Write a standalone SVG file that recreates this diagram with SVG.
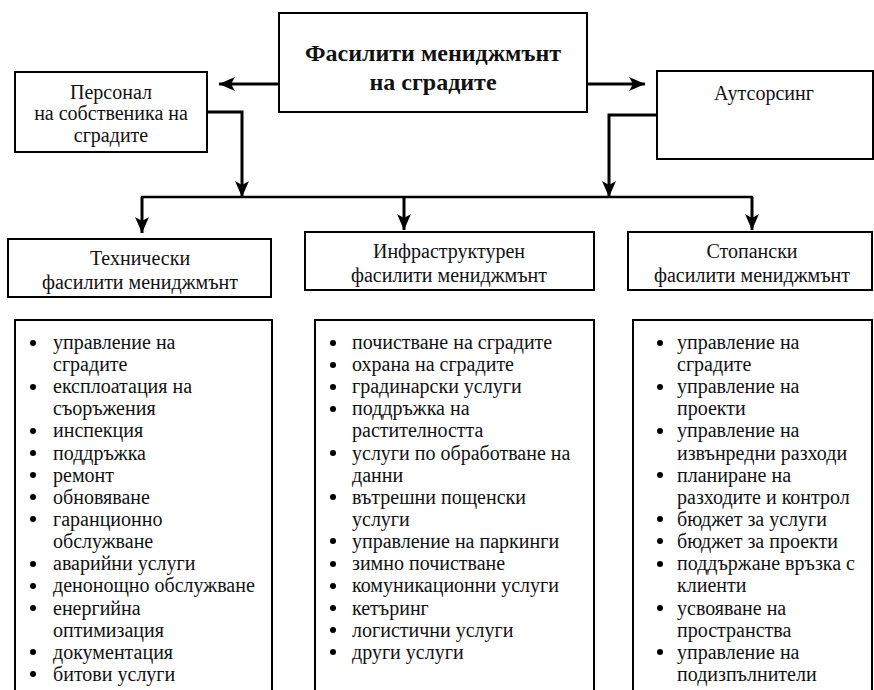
<svg xmlns="http://www.w3.org/2000/svg" width="874" height="690" viewBox="0 0 874 690" style="font-family:'Liberation Serif',serif">
<defs>
<marker id="ah" markerUnits="userSpaceOnUse" viewBox="0 0 16 16" refX="16" refY="8" markerWidth="16" markerHeight="16" orient="auto">
<path d="M0,1 L16,8 L0,15 L4,8 Z" fill="#000"/>
</marker>
</defs>
<rect width="874" height="690" fill="#fff"/>
<g id="connectors" fill="none" stroke="#000" stroke-width="3">
<line x1="278" y1="84" x2="219" y2="84" marker-end="url(#ah)"/>
<line x1="588" y1="84" x2="645" y2="84" marker-end="url(#ah)"/>
<polyline points="207,112 242,112 242,197" marker-end="url(#ah)"/>
<polyline points="657,115 609,115 609,197" marker-end="url(#ah)"/>
<line x1="141" y1="197" x2="753" y2="197" stroke-width="2.5"/>
<line x1="142" y1="197" x2="142" y2="233" marker-end="url(#ah)"/>
<line x1="404" y1="197" x2="404" y2="230" marker-end="url(#ah)"/>
<line x1="752" y1="197" x2="752" y2="230" marker-end="url(#ah)"/>
</g>
<g id="main">
<rect x="279" y="13" width="308" height="99" fill="#fff" stroke="#000" stroke-width="2"/>
<text x="433" y="61" style="font-family:'Liberation Serif',serif;font-size:24px;font-weight:bold" text-anchor="middle" fill="#111">Фасилити мениджмънт</text>
<text x="433" y="90" style="font-family:'Liberation Serif',serif;font-size:24px;font-weight:bold" text-anchor="middle" fill="#111">на сградите</text>
</g>
<g id="personal">
<rect x="15" y="72" width="192" height="80" fill="#fff" stroke="#000" stroke-width="2"/>
<text x="111" y="99" style="font-family:'Liberation Serif',serif;font-size:20px" text-anchor="middle" fill="#111">Персонал</text>
<text x="111" y="120" style="font-family:'Liberation Serif',serif;font-size:20px" text-anchor="middle" fill="#111">на собственика на</text>
<text x="111" y="142" style="font-family:'Liberation Serif',serif;font-size:20px" text-anchor="middle" fill="#111">сградите</text>
</g>
<g id="outsourcing">
<rect x="657" y="71" width="216" height="88" fill="#fff" stroke="#000" stroke-width="2"/>
<text x="764" y="100" style="font-family:'Liberation Serif',serif;font-size:20px" text-anchor="middle" fill="#111">Аутсорсинг</text>
</g>
<g id="tech">
<rect x="8" y="239" width="263" height="58" fill="#fff" stroke="#000" stroke-width="2"/>
<text x="140" y="265" style="font-family:'Liberation Serif',serif;font-size:20px" text-anchor="middle" fill="#111">Технически</text>
<text x="140" y="289" style="font-family:'Liberation Serif',serif;font-size:20px" text-anchor="middle" fill="#111">фасилити мениджмънт</text>
</g>
<g id="infra">
<rect x="305" y="232" width="289" height="58" fill="#fff" stroke="#000" stroke-width="2"/>
<text x="449" y="258" style="font-family:'Liberation Serif',serif;font-size:20px" text-anchor="middle" fill="#111">Инфраструктурен</text>
<text x="449" y="282" style="font-family:'Liberation Serif',serif;font-size:20px" text-anchor="middle" fill="#111">фасилити мениджмънт</text>
</g>
<g id="stop">
<rect x="628" y="232" width="244" height="58" fill="#fff" stroke="#000" stroke-width="2"/>
<text x="752" y="258" style="font-family:'Liberation Serif',serif;font-size:20px" text-anchor="middle" fill="#111">Стопански</text>
<text x="752" y="282" style="font-family:'Liberation Serif',serif;font-size:20px" text-anchor="middle" fill="#111">фасилити мениджмънт</text>
</g>
<g id="list-tech">
<rect x="15" y="320" width="257" height="380" fill="#fff" stroke="#000" stroke-width="2"/>
<g fill="#000">
<circle cx="33" cy="343" r="3"/><circle cx="33" cy="387" r="3"/><circle cx="33" cy="431" r="3"/><circle cx="33" cy="453" r="3"/><circle cx="33" cy="475" r="3"/><circle cx="33" cy="497" r="3"/><circle cx="33" cy="519" r="3"/><circle cx="33" cy="564" r="3"/><circle cx="33" cy="586" r="3"/><circle cx="33" cy="608" r="3"/><circle cx="33" cy="652" r="3"/><circle cx="33" cy="674" r="3"/>
</g>
<g fill="#111">
<text x="53" y="349" style="font-family:'Liberation Serif',serif;font-size:20px">управление  на</text>
<text x="53" y="371" style="font-family:'Liberation Serif',serif;font-size:20px">сградите</text>
<text x="53" y="393" style="font-family:'Liberation Serif',serif;font-size:20px">експлоатация на</text>
<text x="53" y="415" style="font-family:'Liberation Serif',serif;font-size:20px">съоръжения</text>
<text x="53" y="437" style="font-family:'Liberation Serif',serif;font-size:20px">инспекция</text>
<text x="53" y="460" style="font-family:'Liberation Serif',serif;font-size:20px">поддръжка</text>
<text x="53" y="482" style="font-family:'Liberation Serif',serif;font-size:20px">ремонт</text>
<text x="53" y="504" style="font-family:'Liberation Serif',serif;font-size:20px">обновяване</text>
<text x="53" y="526" style="font-family:'Liberation Serif',serif;font-size:20px">гаранционно</text>
<text x="53" y="548" style="font-family:'Liberation Serif',serif;font-size:20px">обслужване</text>
<text x="53" y="570" style="font-family:'Liberation Serif',serif;font-size:20px">аварийни услуги</text>
<text x="53" y="592" style="font-family:'Liberation Serif',serif;font-size:20px">денонощно обслужване</text>
<text x="53" y="615" style="font-family:'Liberation Serif',serif;font-size:20px">енергийна</text>
<text x="53" y="637" style="font-family:'Liberation Serif',serif;font-size:20px">оптимизация</text>
<text x="53" y="659" style="font-family:'Liberation Serif',serif;font-size:20px">документация</text>
<text x="53" y="681" style="font-family:'Liberation Serif',serif;font-size:20px">битови услуги</text>
</g>
</g>
<g id="list-infra">
<rect x="315" y="320" width="279" height="380" fill="#fff" stroke="#000" stroke-width="2"/>
<g fill="#000">
<circle cx="333" cy="343" r="3"/><circle cx="333" cy="365" r="3"/><circle cx="333" cy="387" r="3"/><circle cx="333" cy="409" r="3"/><circle cx="333" cy="453" r="3"/><circle cx="333" cy="497" r="3"/><circle cx="333" cy="541" r="3"/><circle cx="333" cy="564" r="3"/><circle cx="333" cy="586" r="3"/><circle cx="333" cy="608" r="3"/><circle cx="333" cy="630" r="3"/><circle cx="333" cy="652" r="3"/>
</g>
<g fill="#111">
<text x="352" y="349" style="font-family:'Liberation Serif',serif;font-size:20px">почистване на сградите</text>
<text x="352" y="371" style="font-family:'Liberation Serif',serif;font-size:20px">охрана на сградите</text>
<text x="352" y="393" style="font-family:'Liberation Serif',serif;font-size:20px">градинарски услуги</text>
<text x="352" y="415" style="font-family:'Liberation Serif',serif;font-size:20px">поддръжка на</text>
<text x="352" y="437" style="font-family:'Liberation Serif',serif;font-size:20px">растителността</text>
<text x="352" y="460" style="font-family:'Liberation Serif',serif;font-size:20px">услуги по обработване на</text>
<text x="352" y="482" style="font-family:'Liberation Serif',serif;font-size:20px">данни</text>
<text x="352" y="504" style="font-family:'Liberation Serif',serif;font-size:20px">вътрешни пощенски</text>
<text x="352" y="526" style="font-family:'Liberation Serif',serif;font-size:20px">услуги</text>
<text x="352" y="548" style="font-family:'Liberation Serif',serif;font-size:20px">управление на паркинги</text>
<text x="352" y="570" style="font-family:'Liberation Serif',serif;font-size:20px">зимно почистване</text>
<text x="352" y="592" style="font-family:'Liberation Serif',serif;font-size:20px">комуникационни услуги</text>
<text x="352" y="615" style="font-family:'Liberation Serif',serif;font-size:20px">кетъринг</text>
<text x="352" y="637" style="font-family:'Liberation Serif',serif;font-size:20px">логистични услуги</text>
<text x="352" y="659" style="font-family:'Liberation Serif',serif;font-size:20px">други услуги</text>
</g>
</g>
<g id="list-stop">
<rect x="633" y="320" width="239" height="380" fill="#fff" stroke="#000" stroke-width="2"/>
<g fill="#000">
<circle cx="660" cy="343" r="3"/><circle cx="660" cy="387" r="3"/><circle cx="660" cy="431" r="3"/><circle cx="660" cy="475" r="3"/><circle cx="660" cy="519" r="3"/><circle cx="660" cy="541" r="3"/><circle cx="660" cy="564" r="3"/><circle cx="660" cy="608" r="3"/><circle cx="660" cy="652" r="3"/>
</g>
<g fill="#111">
<text x="677" y="349" style="font-family:'Liberation Serif',serif;font-size:20px">управление на</text>
<text x="677" y="371" style="font-family:'Liberation Serif',serif;font-size:20px">сградите</text>
<text x="677" y="393" style="font-family:'Liberation Serif',serif;font-size:20px">управление на</text>
<text x="677" y="415" style="font-family:'Liberation Serif',serif;font-size:20px">проекти</text>
<text x="677" y="437" style="font-family:'Liberation Serif',serif;font-size:20px">управление на</text>
<text x="677" y="460" style="font-family:'Liberation Serif',serif;font-size:20px">извънредни разходи</text>
<text x="677" y="482" style="font-family:'Liberation Serif',serif;font-size:20px">планиране на</text>
<text x="677" y="504" style="font-family:'Liberation Serif',serif;font-size:20px">разходите и контрол</text>
<text x="677" y="526" style="font-family:'Liberation Serif',serif;font-size:20px">бюджет за услуги</text>
<text x="677" y="548" style="font-family:'Liberation Serif',serif;font-size:20px">бюджет за проекти</text>
<text x="677" y="570" style="font-family:'Liberation Serif',serif;font-size:20px">поддържане  връзка с</text>
<text x="677" y="592" style="font-family:'Liberation Serif',serif;font-size:20px">клиенти</text>
<text x="677" y="615" style="font-family:'Liberation Serif',serif;font-size:20px">усвояване на</text>
<text x="677" y="637" style="font-family:'Liberation Serif',serif;font-size:20px">пространства</text>
<text x="677" y="659" style="font-family:'Liberation Serif',serif;font-size:20px">управление на</text>
<text x="677" y="681" style="font-family:'Liberation Serif',serif;font-size:20px">подизпълнители</text>
</g>
</g>
</svg>
